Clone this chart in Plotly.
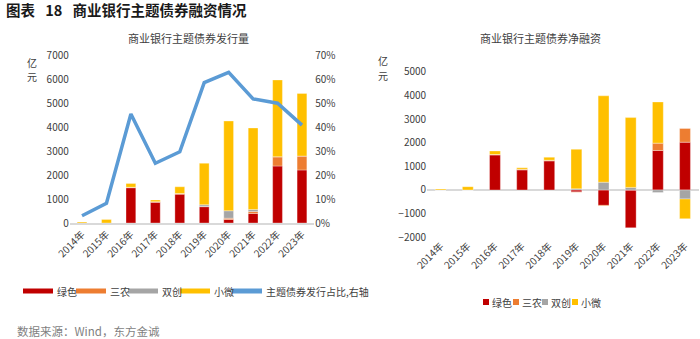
import plotly.graph_objects as go

# ---------------- data ----------------
years = ["2014年", "2015年", "2016年", "2017年", "2018年",
         "2019年", "2020年", "2021年", "2022年", "2023年"]

# 发行量 (亿元)
issue_green = [0, 0, 1470, 860, 1200, 680, 150, 400, 2375, 2210]
issue_agri = [0, 0, 20, 30, 30, 10, 50, 80, 385, 580]
issue_innov = [0, 0, 0, 0, 0, 70, 310, 80, 0, 0]
issue_micro = [40, 150, 160, 70, 280, 1730, 3740, 3400, 3200, 2610]
theme_share = [0.03, 0.082, 0.454, 0.249, 0.297, 0.585, 0.628, 0.517, 0.499, 0.408]

# 净融资 (亿元)
net_green = [0, 0, 1480, 850, 1230, -80, -650, -1600, 1670, 2020]
net_agri = [0, 0, 20, 30, 30, -20, -30, 0, 310, 580]
net_innov = [0, 0, 0, 0, 0, 50, 330, 110, -110, -380]
net_micro = [40, 140, 150, 65, 125, 1670, 3650, 2950, 1740, -835]

series_names = ["绿色", "三农", "双创", "小微"]
line_name = "主题债券发行占比,右轴"
colors = ["#C00000", "#ED7D31", "#A5A5A5", "#FFC000"]
line_color = "#5B9BD5"

W, H = 700, 339
FONT = "Noto Sans CJK SC"
TICK_COLOR = "#404040"


def px_x(x):
    return x / W


def px_y(y):
    return 1 - y / H


fig = go.Figure()

bar_w = 0.4
bar_edge = dict(color="rgba(255,255,255,0.55)", width=0.6)
for vals, name, c in zip([issue_green, issue_agri, issue_innov, issue_micro], series_names, colors):
    fig.add_trace(go.Bar(x=years, y=vals, name=name, marker_color=c, width=bar_w,
                         marker_line=bar_edge, xaxis="x", yaxis="y", showlegend=False))

fig.add_trace(go.Scatter(x=years, y=theme_share, name=line_name, mode="lines",
                         line=dict(color=line_color, width=3.5), xaxis="x", yaxis="y2",
                         showlegend=False))

for vals, name, c in zip([net_green, net_agri, net_innov, net_micro], series_names, colors):
    fig.add_trace(go.Bar(x=years, y=vals, name=name, marker_color=c, width=bar_w,
                         marker_line=bar_edge, xaxis="x2", yaxis="y3", showlegend=False))

tickfont = dict(family=FONT, size=10, color=TICK_COLOR)

fig.update_layout(
    width=W, height=H,
    autosize=False,
    margin=dict(l=0, r=0, t=0, b=0, pad=0, autoexpand=False),
    paper_bgcolor="white", plot_bgcolor="white",
    barmode="relative",
    showlegend=False,
    font=dict(family=FONT, color="#404040"),
    xaxis=dict(domain=[px_x(69.8), px_x(314.2)], anchor="y", type="category",
               range=[-0.5, 9.5], tickangle=-45, tickfont=tickfont, automargin=False,
               showline=True, linecolor="#D9D9D9", linewidth=1.5,
               showgrid=False, ticks=""),
    yaxis=dict(domain=[px_y(223), px_y(55)], anchor="x", range=[0, 7000], automargin=False,
               dtick=1000, tickfont=tickfont, showgrid=False, zeroline=False,
               showline=False, ticks=""),
    yaxis2=dict(overlaying="y", side="right", anchor="x", range=[0, 0.7], automargin=False,
                dtick=0.1, tickformat=".0%", tickfont=tickfont, showgrid=False,
                zeroline=False, showline=False, ticks=""),
    xaxis2=dict(domain=[px_x(427.1), px_x(698.6)], anchor="y3", type="category",
                range=[-0.5, 9.5], tickangle=-45, tickfont=tickfont, automargin=False,
                showline=False, showgrid=False, ticks=""),
    yaxis3=dict(domain=[px_y(237.3), px_y(71.7)], anchor="x2", range=[-2000, 5000],
                dtick=1000, tickfont=tickfont, showgrid=False, zeroline=True, automargin=False,
                zerolinecolor="#D9D9D9", zerolinewidth=2, showline=False, ticks=""),
)

annotations = []
shapes = []

# Titles
annotations.append(dict(text="<b>图表\u2002\u200918\u2002\u2009商业银行主题债券融资情况</b>",
                        x=px_x(4), y=px_y(10),
                        xref="paper", yref="paper", xanchor="left", yanchor="middle",
                        showarrow=False, font=dict(family=FONT, size=14.5, color="#1a1a1a")))
annotations.append(dict(text="商业银行主题债券发行量", x=px_x(188), y=px_y(38),
                        xref="paper", yref="paper", xanchor="center", yanchor="middle",
                        showarrow=False, font=dict(family=FONT, size=11, color="#404040")))
annotations.append(dict(text="商业银行主题债券净融资", x=px_x(540), y=px_y(38),
                        xref="paper", yref="paper", xanchor="center", yanchor="middle",
                        showarrow=False, font=dict(family=FONT, size=11, color="#404040")))
# unit labels (stacked characters)
for ux, uy in [(32, 62), (383, 61)]:
    for k, ch in enumerate(["亿", "元"]):
        annotations.append(dict(text=ch, x=px_x(ux), y=px_y(uy + 14 * k),
                                xref="paper", yref="paper", xanchor="center", yanchor="middle",
                                showarrow=False, borderpad=0,
                                font=dict(family=FONT, size=10, color="#404040")))
# Footer
annotations.append(dict(text="数据来源：Wind，东方金诚", x=px_x(15), y=px_y(331),
                        xref="paper", yref="paper", xanchor="left", yanchor="middle",
                        showarrow=False, font=dict(family=FONT, size=11.5, color="#7F7F7F")))

# Left legend (thick line swatches)
leg_y = 291
left_items = list(zip(series_names + [line_name], colors + [line_color],
                      [23, 76, 128, 180, 232]))
for name, c, sx in left_items:
    shapes.append(dict(type="rect", xref="paper", yref="paper",
                       x0=px_x(sx), x1=px_x(sx + 30), y0=px_y(leg_y + 2.5), y1=px_y(leg_y - 2.5),
                       fillcolor=c, line_width=0))
    annotations.append(dict(text=name, x=px_x(sx + 32), y=px_y(leg_y), xref="paper", yref="paper",
                            xanchor="left", yanchor="middle", showarrow=False,
                            font=dict(family=FONT, size=10, color="#404040")))

# Right legend (square swatches)
leg_y2 = 302
for name, c, sx in zip(series_names, colors, [483, 513, 542, 572]):
    shapes.append(dict(type="rect", xref="paper", yref="paper",
                       x0=px_x(sx), x1=px_x(sx + 6), y0=px_y(leg_y2 + 3), y1=px_y(leg_y2 - 3),
                       fillcolor=c, line_width=0))
    annotations.append(dict(text=name, x=px_x(sx + 7), y=px_y(leg_y2), xref="paper", yref="paper",
                            xanchor="left", yanchor="middle", showarrow=False,
                            font=dict(family=FONT, size=10, color="#404040")))

fig.update_layout(annotations=annotations, shapes=shapes)

fig.write_html("out.html")
